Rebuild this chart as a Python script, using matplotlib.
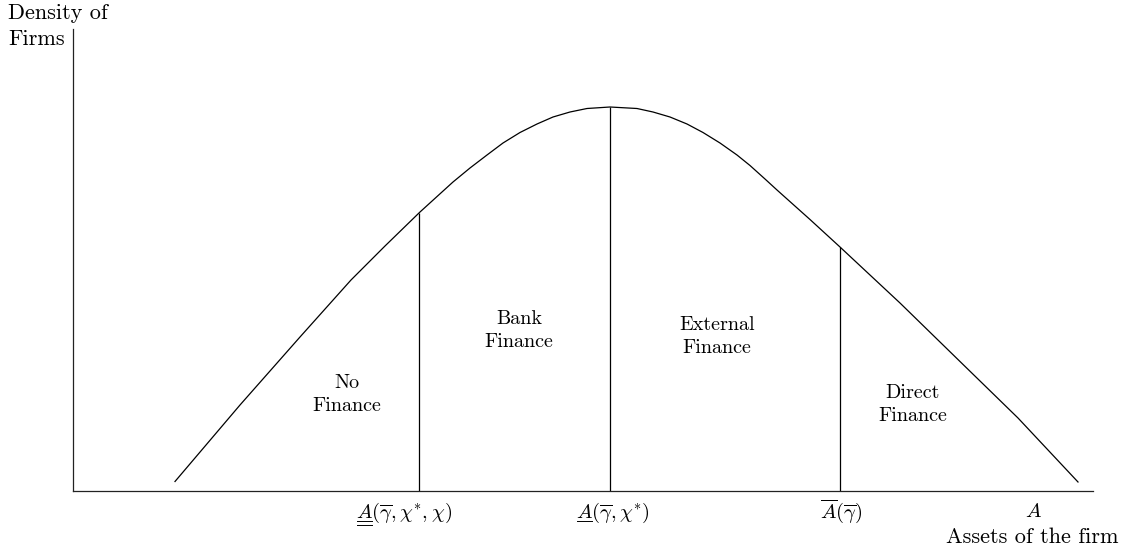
import matplotlib
matplotlib.use("Agg")
import matplotlib.pyplot as plt
from matplotlib.lines import Line2D
from matplotlib.transforms import IdentityTransform

plt.rcParams["font.family"] = "cmr10"
plt.rcParams["mathtext.fontset"] = "cm"
plt.rcParams["axes.unicode_minus"] = False

# density curve (assets, density)
assets = [1.02, 1.67, 2.27, 2.78, 3.12, 3.47, 3.80, 3.97, 4.14, 4.30, 4.47,
          4.64, 4.80, 4.97, 5.14, 5.37, 5.64, 5.80, 5.97, 6.14, 6.30, 6.47,
          6.64, 6.77, 6.92, 7.04, 7.37, 7.67, 7.97, 8.27, 8.87, 9.45, 10.05]
density = [0.095, 0.86, 1.54, 2.11, 2.45, 2.79, 3.09, 3.23, 3.36, 3.48, 3.585,
           3.67, 3.74, 3.79, 3.825, 3.84, 3.825, 3.79, 3.74, 3.67, 3.585, 3.48,
           3.36, 3.255, 3.12, 3.01, 2.715, 2.44, 2.16, 1.88, 1.295, 0.73, 0.09]

# thresholds and curve height at each threshold
cutoffs = [3.46, 5.37, 7.67]
cutoff_heights = [2.78, 3.84, 2.44]
cutoff_labels = [r"$A(\overline{\gamma},\chi^{*},\chi)$",
                 r"$A(\overline{\gamma},\chi^{*})$",
                 r"$\overline{A}(\overline{\gamma})$"]
n_underlines = [2, 1, 0]

regions = ["No\nFinance", "Bank\nFinance", "External\nFinance", "Direct\nFinance"]
region_pos = [(2.74, 0.80), (4.46, 1.44), (6.44, 1.38), (8.40, 0.70)]

fig = plt.figure(figsize=(11.21, 5.54), dpi=100)
ax = fig.add_axes([73 / 1121, 63 / 554, 1020 / 1121, 462 / 554])
ax.set_xlim(0, 10.20)
ax.set_ylim(0, 4.62)
for s in ["top", "right"]:
    ax.spines[s].set_visible(False)
for s in ["left", "bottom"]:
    ax.spines[s].set_linewidth(0.9)
    ax.spines[s].set_color("#222222")
ax.set_xticks([])
ax.set_yticks([])

ax.plot(assets, density, color="black", lw=0.9)
ax.vlines(cutoffs, 0, cutoff_heights, color="black", lw=0.9)

for txt, (x, y) in zip(regions, region_pos):
    ax.text(x, y, txt, ha="center", va="baseline", fontsize=14.5,
            multialignment="center", linespacing=1.4)

label_dx = [-15, 3, 1]
label_texts = []
for x, lab, dx in zip(cutoffs, cutoff_labels, label_dx):
    t = ax.annotate(lab, xy=(x, 0), xytext=(dx, -27),
                    textcoords="offset pixels", ha="center", va="baseline",
                    fontsize=14.8)
    label_texts.append(t)

ax.annotate(r"$A$", xy=(9.60, 0), xytext=(0, -26), textcoords="offset pixels",
            ha="center", va="baseline", fontsize=14.8)
ax.annotate("Assets of the firm", xy=(9.59, 0), xytext=(0, -52),
            textcoords="offset pixels", ha="center", va="baseline",
            fontsize=16)

fig.text(8 / 1121, 1 - 45 / 554, "Density of\nFirms", ha="left",
         va="baseline", fontsize=16, linespacing=1.45)

# underlines below the leading A of the threshold labels
fig.canvas.draw()
renderer = fig.canvas.get_renderer()
wA, _, _ = renderer.get_text_width_height_descent(
    r"$A$", label_texts[0].get_fontproperties(), ismath=True)
for t, x, n in zip(label_texts, cutoffs, n_underlines):
    if n == 0:
        continue
    bb = t.get_window_extent(renderer)
    base = ax.transData.transform((x, 0))[1] - 27
    for k in range(n):
        yy = base - 3 - 4 * k
        fig.add_artist(Line2D([bb.x0 + 1, bb.x0 + wA - 1], [yy, yy],
                              transform=IdentityTransform(), color="black",
                              lw=0.7))

fig.savefig("out.png", dpi=100)
